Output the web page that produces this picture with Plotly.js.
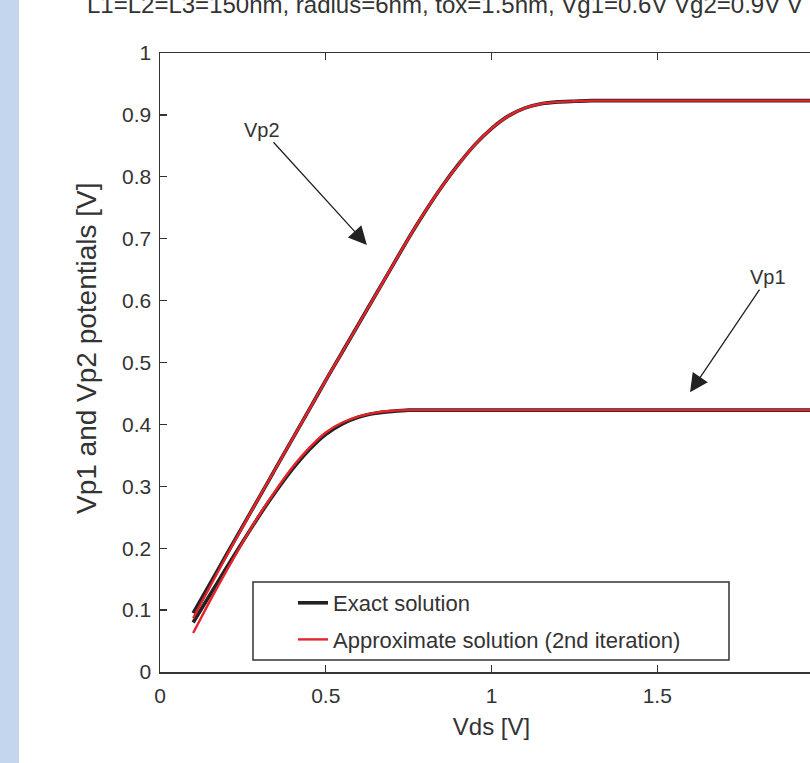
<!DOCTYPE html>
<html><head><meta charset="utf-8">
<script src="https://cdn.plot.ly/plotly-3.0.1.min.js"></script>
<style>html,body{margin:0;padding:0;background:#fff;overflow:hidden;width:810px;height:763px}#chart{width:830px;height:763px}</style>
</head><body><div id="chart"></div>
<script>
// Vds sweep [V]
const vds = [0.1,0.15,0.2,0.25,0.3,0.35,0.4,0.45,0.5,0.55,0.6,0.65,0.7,0.75,0.8,0.85,0.9,0.95,1.0,1.05,1.1,1.15,1.2,1.25,1.3,1.4,1.5,1.6,1.7,1.8,1.9,2.0];
// Exact solution
const vp2Exact = [0.095,0.142,0.189,0.236,0.283,0.330,0.377,0.424,0.471,0.517,0.563,0.609,0.655,0.701,0.744,0.784,0.820,0.852,0.878,0.898,0.911,0.918,0.921,0.922,0.923,0.923,0.923,0.923,0.923,0.923,0.923,0.923];
const vp1Exact = [0.080,0.124,0.168,0.211,0.253,0.292,0.328,0.359,0.384,0.401,0.412,0.418,0.421,0.423,0.423,0.423,0.423,0.423,0.423,0.423,0.423,0.423,0.423,0.423,0.423,0.423,0.423,0.423,0.423,0.423,0.423,0.423];
// Approximate solution (2nd iteration)
const vp2Approx = [0.087,0.137,0.187,0.235,0.283,0.330,0.377,0.424,0.471,0.517,0.563,0.609,0.655,0.701,0.744,0.784,0.820,0.852,0.878,0.898,0.911,0.918,0.921,0.922,0.923,0.923,0.923,0.923,0.923,0.923,0.923,0.923];
const vp1Approx = [0.063,0.114,0.163,0.210,0.254,0.294,0.331,0.362,0.387,0.403,0.413,0.419,0.422,0.423,0.423,0.423,0.423,0.423,0.423,0.423,0.423,0.423,0.423,0.423,0.423,0.423,0.423,0.423,0.423,0.423,0.423,0.423];
const xTicks = [0,0.5,1,1.5];
const xTickText = ['0','0.5','1','1.5'];
const yTicks = [0,0.1,0.2,0.3,0.4,0.5,0.6,0.7,0.8,0.9,1];
const yTickText = ['0','0.1','0.2','0.3','0.4','0.5','0.6','0.7','0.8','0.9','1'];
const titleText = 'L1=L2=L3=150nm, radius=6nm, tox=1.5nm, Vg1=0.6V Vg2=0.9V V';

const BLACK = '#222222', RED = '#e5232b';
const FONT = 'Liberation Sans, Arial, Helvetica, sans-serif';
const lineOpt = (c,w) => ({color:c, width:w, shape:'spline', smoothing:0.5});

const traces = [
  {x:vds, y:vp1Exact, mode:'lines', name:'Exact solution', legendgroup:'ex', line:lineOpt(BLACK,3.6)},
  {x:vds, y:vp2Exact, mode:'lines', name:'Exact solution', legendgroup:'ex', showlegend:false, line:lineOpt(BLACK,3.6)},
  {x:vds, y:vp1Approx, mode:'lines', name:'Approximate solution (2nd iteration)', legendgroup:'ap', line:lineOpt(RED,2.4)},
  {x:vds, y:vp2Approx, mode:'lines', name:'Approximate solution (2nd iteration)', legendgroup:'ap', showlegend:false, line:lineOpt(RED,2.4)}
];

const axisCommon = {
  showline:true, linecolor:'#333', linewidth:1.5, ticks:'inside', ticklen:7, tickwidth:1.3, tickcolor:'#333',
  showgrid:false, zeroline:false, tickfont:{family:FONT, size:21, color:'#333'}
};

// plot area: 160..823 px wide (x 0..2), 53..672 px tall; the window shows up to 810 px
const PW = 663, PH = 619;
const layout = {
  width:830, height:763,
  margin:{l:160, r:7, t:53, b:91, pad:0},
  paper_bgcolor:'#fff', plot_bgcolor:'#fff',
  font:{family:FONT, color:'#333'},
  showlegend:true,
  xaxis: Object.assign({}, axisCommon, {range:[0,2], tickvals:xTicks, ticktext:xTickText, mirror:'ticks', ticklabelstandoff:4,
         title:{text:'Vds [V]', font:{family:FONT, size:24, color:'#333'}, standoff:12}}),
  yaxis: Object.assign({}, axisCommon, {range:[0,1], tickvals:yTicks, ticktext:yTickText, ticklabelstandoff:3}),
  legend:{x:(293-160)/PW, y:(672-582)/PH, xanchor:'left', yanchor:'top', bgcolor:'rgba(0,0,0,0)', borderwidth:0,
          font:{family:FONT, size:22, color:'#333'}, traceorder:'grouped', tracegroupgap:5},
  shapes:[
    {type:'rect', xref:'paper', yref:'paper', x0:(253-160)/PW, x1:(729-160)/PW, y0:(672-660)/PH, y1:(672-582)/PH,
     line:{color:'#333', width:1.5}, fillcolor:'rgba(0,0,0,0)'},
    {type:'rect', xref:'paper', yref:'paper', x0:-160/PW, x1:-141/PW, y0:-91/PH, y1:1+53/PH,
     line:{width:0}, fillcolor:'#c4d6ee', layer:'below'}
  ],
  annotations:[
    {text:titleText, xref:'paper', yref:'paper', x:(85-160)/PW, y:1+(53-20)/PH, xanchor:'left', yanchor:'bottom',
     showarrow:false, font:{family:FONT, size:24, color:'#333'}},
    {text:'Vp1 and Vp2 potentials [V]', xref:'paper', yref:'paper', x:(86-160)/PW, y:(672-348)/PH,
     xanchor:'center', yanchor:'middle', textangle:-90, showarrow:false, font:{family:FONT, size:28, color:'#333'}},
    {x:0.624, y:0.690, ax:0.308, ay:0.876, xref:'x', yref:'y', axref:'x', ayref:'y', text:'Vp2',
     showarrow:true, arrowhead:2, arrowsize:2.8, arrowwidth:1.3, arrowcolor:'#222', font:{family:FONT, size:20, color:'#333'}},
    {x:1.599, y:0.452, ax:1.834, ay:0.638, xref:'x', yref:'y', axref:'x', ayref:'y', text:'Vp1',
     showarrow:true, arrowhead:2, arrowsize:2.8, arrowwidth:1.3, arrowcolor:'#222', font:{family:FONT, size:20, color:'#333'}}
  ]
};

Plotly.newPlot('chart', traces, layout, {displayModeBar:false, staticPlot:true});
</script></body></html>
